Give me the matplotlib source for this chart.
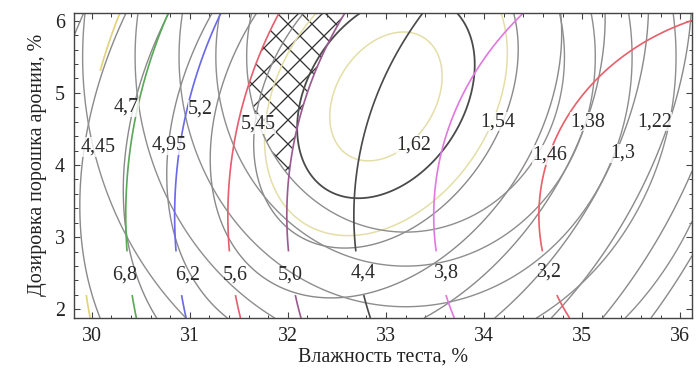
import numpy as np
import matplotlib.pyplot as plt
from matplotlib.ticker import MultipleLocator

plt.rcParams['font.family'] = ['Liberation Serif', 'DejaVu Serif']
plt.rcParams['hatch.color'] = '#333333'
plt.rcParams['hatch.linewidth'] = 1.3

# --- response surfaces, parameters ----------------------------------------
# A: nested ellipses (labels 4,45 ... 5,45), value = a0 - a1*ln(r)
a_centre = [33.2, 5.5]
a_stretch = 1.5
a_coef = [6.13, 1.41]
a_levels = [4.45, 4.7, 4.95, 5.2, 5.45]
a_labels = ['4,45', '4,7', '4,95', '5,2', '5,45']

# B: tilted nested ellipses (labels 1,62 ... 1,22), value = b0 - b1*r
b_centre = [33.0, 4.95]
b_stretch = 1.64
b_tilt = 0.2
b_coef = [1.7834, 0.19]
b_levels = [1.06, 1.14, 1.22, 1.3, 1.38, 1.46, 1.54]
b_dark_level = [1.62]
b_pale_levels = [1.56, 1.68]
b_labels = ['1,62', '1,54', '1,46', '1,38', '1,3', '1,22']

# C: coloured paraboloid (labels 6,8 ... 3,2)
c_centre = [37.0, 3.3]
c_coef = [2.64, 0.094, 0.0667]
c_levels = [3.2, 3.8, 4.4, 5.0, 5.6, 6.2, 6.8]
c_top_level = [7.4]
c_labels = ['6,8', '6,2', '5,6', '5,0', '4,4', '3,8', '3,2']

# optimum region: c between these values and a above this one
hatch_c = [5.0, 5.6]
hatch_a = 5.45

# label placement (layout only)
a_label_pos = [(30.07, 4.25), (30.35, 4.8), (30.79, 4.27), (31.11, 4.77), (31.7, 4.57)]
b_label_pos = [(33.28, 4.28), (34.14, 4.6), (34.67, 4.14), (35.06, 4.6), (35.41, 4.16), (35.74, 4.6)]
c_label_pos = [(30.34, 2.48), (30.98, 2.48), (31.46, 2.48), (32.02, 2.48), (32.77, 2.5), (33.62, 2.5), (34.67, 2.51)]
c_colors = ['#e8606a', '#e07ae0', '#4a4a4a', '#9a5a90', '#e4606e', '#6a6ae6', '#5aa85a']

xlim = (29.82, 36.12)
ylim = (1.88, 6.11)

x = np.linspace(*xlim, 500)
y = np.linspace(*ylim, 400)
X, Y = np.meshgrid(x, y)

ra = np.hypot(X - a_centre[0], (Y - a_centre[1]) / a_stretch)
fa = a_coef[0] - a_coef[1] * np.log(np.maximum(ra, 0.05))

bx = X - (b_centre[0] + b_tilt * (Y - b_centre[1]))
rb = np.hypot(bx, (Y - b_centre[1]) / b_stretch)
fb = b_coef[0] - b_coef[1] * rb

fc = c_coef[0] + c_coef[1] * (X - c_centre[0]) ** 2 + c_coef[2] * (Y - c_centre[1]) ** 2
# coloured lines are broken where their labels sit
fc_cut = np.ma.masked_where((Y > 2.2) & (Y < 2.8), fc)
fc_top = np.ma.masked_where((Y > 2.2) & (Y < 5.3), fc)

fig = plt.figure(figsize=(698 / 72, 377 / 72), dpi=72)
ax = fig.add_axes([74 / 698, 1 - 318 / 377, 618 / 698, (318 - 12.7) / 377])

ax.contour(X, Y, fb, levels=b_pale_levels, colors='#e3dea6', linewidths=1.5)
ax.contour(X, Y, fb, levels=b_levels, colors='#8a8a8a', linewidths=1.4)
ax.contour(X, Y, fb, levels=b_dark_level, colors='#4a4a4a', linewidths=1.8)
ax.contour(X, Y, fa, levels=a_levels, colors='#8e8e8e', linewidths=1.4)
ax.contour(X, Y, fc_top, levels=c_top_level, colors='#e2d27a', linewidths=1.7)
ax.contour(X, Y, fc_cut, levels=c_levels, colors=c_colors, linewidths=1.7)

inside = (fc >= hatch_c[0]) & (fc <= hatch_c[1]) & (fa >= hatch_a)
ax.contourf(X, Y, inside.astype(float), levels=[0.5, 1.5], colors='none', hatches=['x'])

lab_kw = dict(fontsize=20, ha='center', va='center', color='#2a2a2a')
for txt, (px, py) in zip(a_labels, a_label_pos):
    ax.text(px, py, txt, bbox=dict(fc='white', ec='none', pad=0.3, alpha=0.8), **lab_kw)
for txt, (px, py) in zip(b_labels, b_label_pos):
    ax.text(px, py, txt, bbox=dict(fc='white', ec='none', pad=0.3, alpha=0.8), **lab_kw)
for txt, (px, py) in zip(c_labels, c_label_pos):
    ax.text(px, py, txt, **lab_kw)

ax.set_xlim(*xlim)
ax.set_ylim(*ylim)
ax.set_xticks(range(30, 37))
ax.set_yticks(range(2, 7))
ax.xaxis.set_minor_locator(MultipleLocator(0.2))
ax.yaxis.set_minor_locator(MultipleLocator(0.2))
ax.tick_params(which='both', direction='in', top=True, right=True,
               colors='#444444', labelcolor='#222222', labelsize=20, pad=9)
ax.tick_params(which='major', length=6, width=1.1)
ax.tick_params(which='minor', length=3.5, width=1.0)
for sp in ax.spines.values():
    sp.set_color('#444444')
    sp.set_linewidth(1.4)

ax.set_xlabel('Влажность теста, %', fontsize=20, color='#222222', labelpad=2)
ax.set_ylabel('Дозировка порошка аронии, %', fontsize=20, color='#222222', labelpad=8)

fig.savefig('out.png', dpi=72)
